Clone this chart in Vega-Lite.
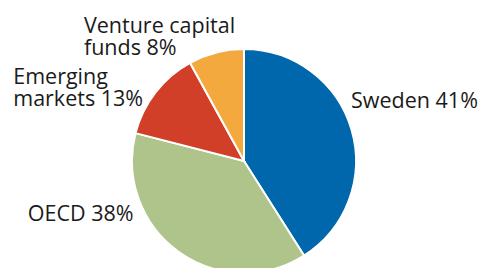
{
  "$schema": "https://vega.github.io/schema/vega-lite/v6.json",
  "autosize": "none",
  "width": 478,
  "height": 214,
  "padding": {"left": 5, "top": 54, "right": 0, "bottom": 0},
  "background": "white",
  "config": {
    "view": {"stroke": null},
    "text": {"font": "Open Sans", "fontSize": 21.5, "color": "#1a1a1a"}
  },
  "data": {
    "values": [
      {"category": "Sweden", "label": "Sweden 41%", "share": 41, "rank": 1},
      {"category": "OECD", "label": "OECD 38%", "share": 38, "rank": 2},
      {"category": "Emerging markets", "label": "Emerging\nmarkets 13%", "share": 13, "rank": 3},
      {"category": "Venture capital funds", "label": "Venture capital\nfunds 8%", "share": 8, "rank": 4}
    ]
  },
  "transform": [
    {"stack": "share", "groupby": [], "sort": [{"field": "rank", "order": "ascending"}], "as": ["s0", "s1"]},
    {"calculate": "(datum.s0 + datum.s1) / 2", "as": "mid"}
  ],
  "layer": [
    {
      "mark": {"type": "arc", "radius": 112, "stroke": "white", "strokeWidth": 2},
      "encoding": {
        "theta": {"field": "s0", "type": "quantitative", "stack": null, "scale": {"domain": [0, 100]}},
        "theta2": {"field": "s1"},
        "color": {
          "field": "category",
          "type": "nominal",
          "scale": {
            "domain": ["Sweden", "OECD", "Emerging markets", "Venture capital funds"],
            "range": ["#0067AC", "#AFC48B", "#D13F28", "#F4A93F"]
          },
          "legend": null
        }
      }
    },
    {
      "transform": [{"filter": "datum.category === 'Sweden'"}],
      "mark": {"type": "text", "radius": 125, "align": "left", "baseline": "alphabetic", "dx": -13, "dy": -18, "lineBreak": "\n"},
      "encoding": {
        "theta": {"field": "mid", "type": "quantitative", "stack": null, "scale": {"domain": [0, 100]}},
        "text": {"field": "label", "type": "nominal"}
      }
    },
    {
      "transform": [{"filter": "datum.category === 'OECD'"}],
      "mark": {"type": "text", "radius": 125, "align": "right", "baseline": "alphabetic", "dx": -37, "dy": -41, "lineBreak": "\n"},
      "encoding": {
        "theta": {"field": "mid", "type": "quantitative", "stack": null, "scale": {"domain": [0, 100]}},
        "text": {"field": "label", "type": "nominal"}
      }
    },
    {
      "transform": [{"filter": "datum.category === 'Emerging markets'"}],
      "mark": {"type": "text", "radius": 125, "align": "left", "baseline": "alphabetic", "dx": -132, "dy": 0, "lineBreak": "\n", "lineHeight": 22},
      "encoding": {
        "theta": {"field": "mid", "type": "quantitative", "stack": null, "scale": {"domain": [0, 100]}},
        "text": {"field": "label", "type": "nominal"}
      }
    },
    {
      "transform": [{"filter": "datum.category === 'Venture capital funds'"}],
      "mark": {"type": "text", "radius": 125, "align": "left", "baseline": "alphabetic", "dx": -129, "dy": -7, "lineBreak": "\n", "lineHeight": 22},
      "encoding": {
        "theta": {"field": "mid", "type": "quantitative", "stack": null, "scale": {"domain": [0, 100]}},
        "text": {"field": "label", "type": "nominal"}
      }
    }
  ]
}
